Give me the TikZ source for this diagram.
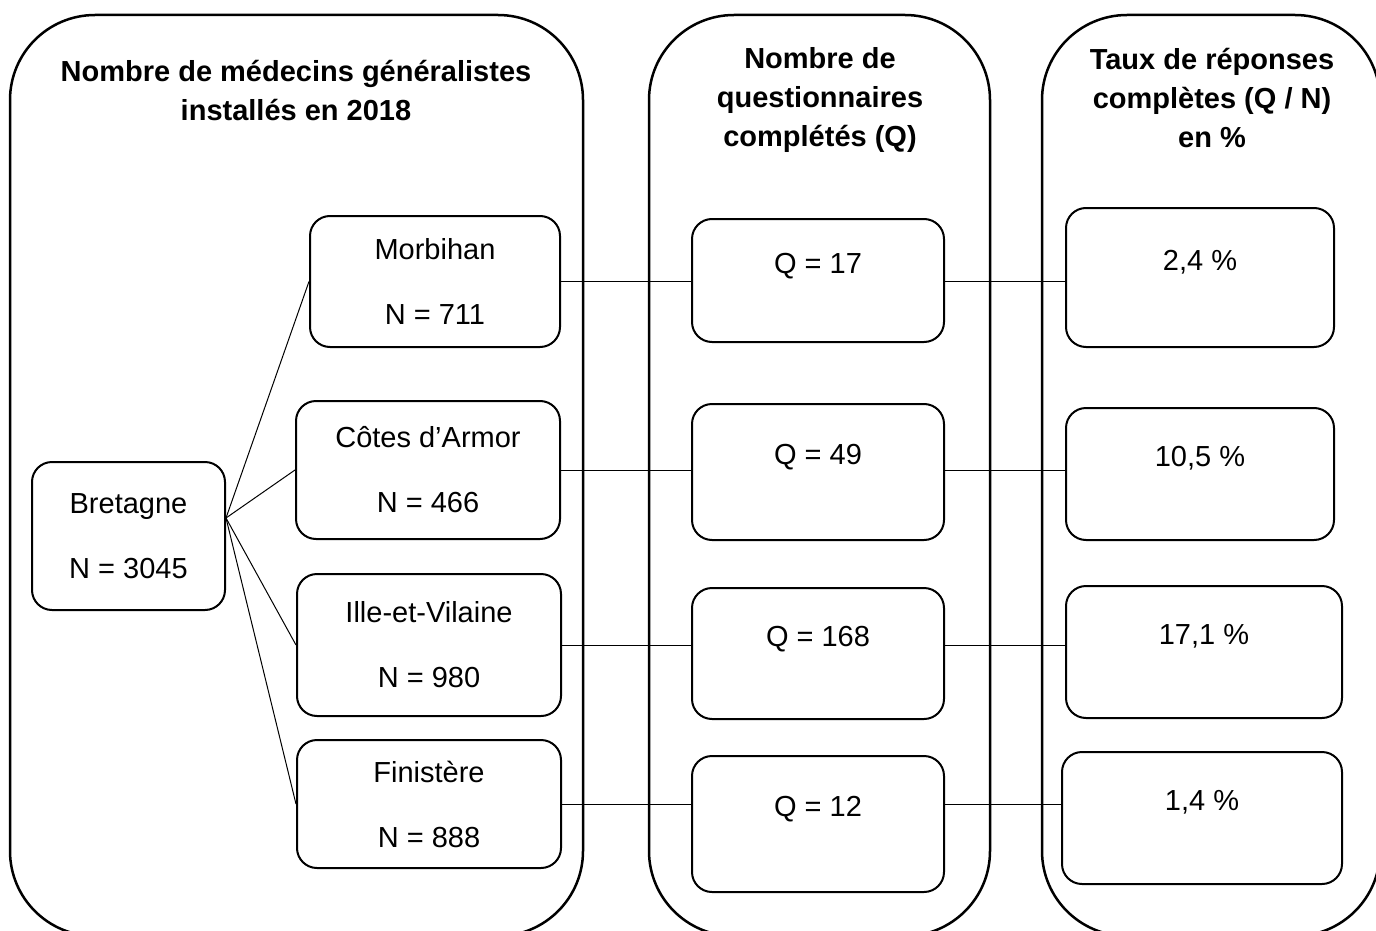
\documentclass[tikz,border=0pt]{standalone}
\usepackage{fontspec}
\setmainfont{Liberation Sans}

\begin{document}
\begin{tikzpicture}[x=0.5pt,y=-0.5pt,
	panel/.style={rounded corners=42.5pt, line width=1.25pt},
	box/.style={draw, rounded corners=10pt, line width=1pt, align=center, font=\fontsize{14.5}{17.5}\selectfont},
	title/.style={align=center, font=\fontsize{14.5}{19.5}\selectfont\bfseries},
	link/.style={line width=0.5pt}]
	\useasboundingbox (0,0) rectangle (1376,931);
	\clip (0,0) rectangle (1376,931);
	\draw[panel] (10,15) rectangle (583,936);
	\draw[panel] (649,15) rectangle (990,936);
	\draw[panel] (1042,15) rectangle (1380,936);

	\node[title] (t-med) at (296,91) {Nombre de médecins généralistes\\installés en 2018};
	\node[title] (t-quest) at (820,100) {Nombre de\\questionnaires\\complétés (Q)};
	\node[title] (t-taux) at (1212,98) {Taux de réponses\\complètes (Q / N)\\en \%};

	\node[box, minimum width=96.5pt, minimum height=74pt] (bre) at (128.5,536) {Bretagne\\[15pt]N = 3045};
	\node[box, minimum width=125pt, minimum height=65.5pt] (mor) at (435,281.5) {Morbihan\\[15pt]N = 711};
	\node[box, minimum width=132pt, minimum height=69pt] (cot) at (428,470) {Côtes d’Armor\\[15pt]N = 466};
	\node[box, minimum width=132pt, minimum height=71pt] (ill) at (429,645) {Ille-et-Vilaine\\[15pt]N = 980};
	\node[box, minimum width=132pt, minimum height=64pt] (fin) at (429,804) {Finistère\\[15pt]N = 888};

	\node[box, minimum width=126pt, minimum height=61.5pt] (q1) at (818,280.5) {Q = 17\\\mbox{}};
	\node[box, minimum width=126pt, minimum height=68pt] (q2) at (818,472) {Q = 49\\\mbox{}};
	\node[box, minimum width=126pt, minimum height=65.5pt] (q3) at (818,653.5) {Q = 168\\\mbox{}};
	\node[box, minimum width=126pt, minimum height=68pt] (q4) at (818,824) {Q = 12\\\mbox{}};

	\node[box, minimum width=134pt, minimum height=69.5pt] (r1) at (1200,277.5) {2,4 \%\\\mbox{}};
	\node[box, minimum width=134pt, minimum height=66pt] (r2) at (1200,474) {10,5 \%\\\mbox{}};
	\node[box, minimum width=138pt, minimum height=66pt] (r3) at (1204,652) {17,1 \%\\\mbox{}};
	\node[box, minimum width=140pt, minimum height=66pt] (r4) at (1202,818) {1,4 \%\\\mbox{}};

	\coordinate (hub) at ([yshift=9pt]bre.east);
	\foreach \d/\q/\r in {mor/q1/r1, cot/q2/r2, ill/q3/r3, fin/q4/r4} {
		\draw[link] (hub) -- (\d.west);
		\draw[link] (\d.east) -- (\d.east -| \q.west);
		\draw[link] (\q.east |- \d.east) -- (\r.west |- \d.east);
	}
\end{tikzpicture}
\end{document}
